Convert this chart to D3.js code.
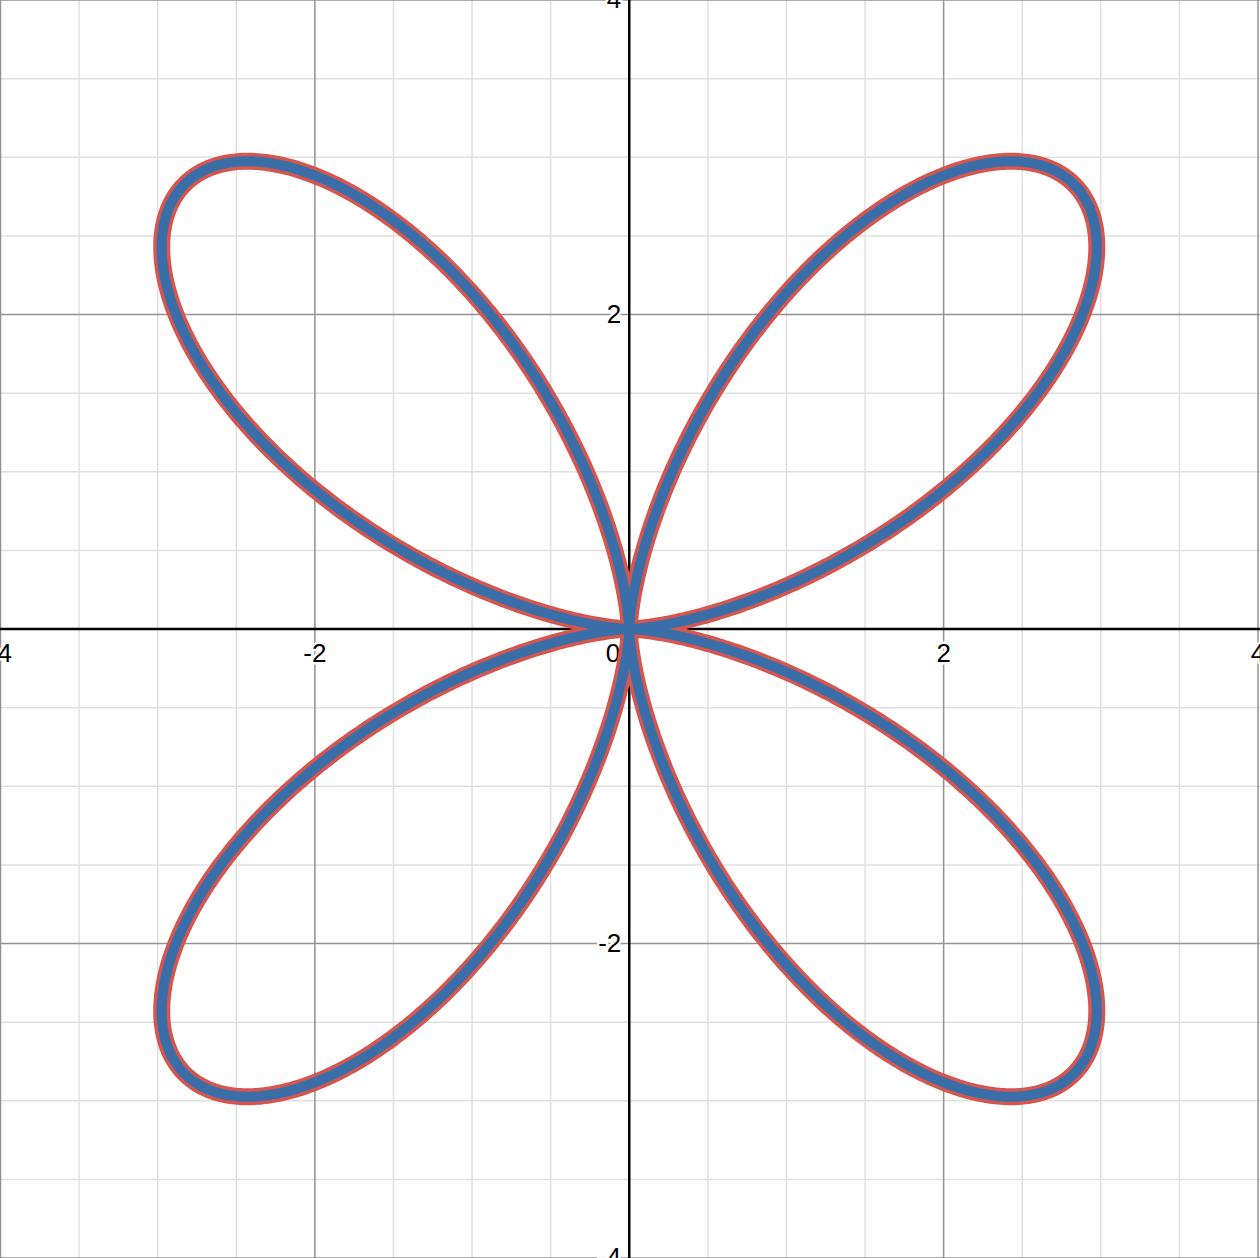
<!DOCTYPE html>
<html>
<head>
<meta charset="utf-8">
<script src="https://cdn.jsdelivr.net/npm/d3@7"></script>
<style>
  html, body { margin: 0; padding: 0; background: #fff; overflow: hidden; }
  svg { display: block; }
  .lbl { font-family: "Liberation Sans", Arial, sans-serif; font-size: 26px; fill: #000;
         paint-order: stroke; stroke: #fff; stroke-width: 5px; stroke-linejoin: round; }
</style>
</head>
<body>
<svg id="chart" width="1260" height="1258"></svg>
<script>
// ---- data ----
const xDomain = [-4, 4];
const yDomain = [-4, 4];
const majorTicks = [-4, -2, 0, 2, 4];
const minorStep = 0.5;
const tickLabels = ["-4", "-2", "0", "2", "4"];
// polar curve r = amplitude * sin(petalFreq * theta)^exponent
const amplitude = 4;
const petalFreq = 2;
const exponent = 2;
const samples = 2000;

// ---- layout ----
const W = 1260, H = 1258;
const svg = d3.select("#chart");
const x = d3.scaleLinear().domain(xDomain).range([0.5, 1258]);
const y = d3.scaleLinear().domain(yDomain).range([1258, 0]);

// minor grid
const minor = d3.range(xDomain[0], xDomain[1] + 1e-9, minorStep).filter(v => Math.abs(v / 2 - Math.round(v / 2)) > 1e-9);
const g = svg.append("g");
g.selectAll(".mx").data(minor).enter().append("line")
  .attr("x1", d => x(d)).attr("x2", d => x(d)).attr("y1", 0).attr("y2", H)
  .attr("stroke", "#e0e0e0").attr("stroke-width", 1.5);
g.selectAll(".my").data(minor).enter().append("line")
  .attr("y1", d => y(d)).attr("y2", d => y(d)).attr("x1", 0).attr("x2", W)
  .attr("stroke", "#e0e0e0").attr("stroke-width", 1.5);
// major grid
const majorNZ = majorTicks.filter(v => v !== 0);
g.selectAll(".Mx").data(majorNZ).enter().append("line")
  .attr("x1", d => x(d)).attr("x2", d => x(d)).attr("y1", 0).attr("y2", H)
  .attr("stroke", "#929292").attr("stroke-width", 1.5);
g.selectAll(".My").data(majorNZ).enter().append("line")
  .attr("y1", d => y(d)).attr("y2", d => y(d)).attr("x1", 0).attr("x2", W)
  .attr("stroke", "#929292").attr("stroke-width", 1.5);
// axes
g.append("line").attr("x1", 0).attr("x2", W).attr("y1", y(0)).attr("y2", y(0))
  .attr("stroke", "#000").attr("stroke-width", 2.5);
g.append("line").attr("y1", 0).attr("y2", H).attr("x1", x(0)).attr("x2", x(0))
  .attr("stroke", "#000").attr("stroke-width", 2.5);

// labels
const lg = svg.append("g");
majorTicks.forEach((v, i) => {
  if (v === 0) {
    lg.append("text").attr("class", "lbl").attr("x", x(0) - 9).attr("y", y(0) + 33)
      .attr("text-anchor", "end").text(tickLabels[i]);
    return;
  }
  lg.append("text").attr("class", "lbl").attr("x", x(v)).attr("y", y(0) + 33)
    .attr("text-anchor", "middle").text(tickLabels[i]);
  lg.append("text").attr("class", "lbl").attr("x", x(0) - 8).attr("y", y(v) + 8)
    .attr("text-anchor", "end").text(tickLabels[i]);
});

// curve
const pts = d3.range(samples + 1).map(i => {
  const t = 2 * Math.PI * i / samples;
  const r = amplitude * Math.pow(Math.sin(petalFreq * t), exponent);
  return [r * Math.cos(t), r * Math.sin(t)];
});
const line = d3.line().x(d => x(d[0])).y(d => y(d[1])).curve(d3.curveLinear);
svg.append("path").datum(pts).attr("d", line).attr("fill", "none")
  .attr("stroke", "#d5564f").attr("stroke-width", 17).attr("stroke-linejoin", "round");
svg.append("path").datum(pts).attr("d", line).attr("fill", "none")
  .attr("stroke", "#3a6ea8").attr("stroke-width", 10).attr("stroke-linejoin", "round");
</script>
</body>
</html>
